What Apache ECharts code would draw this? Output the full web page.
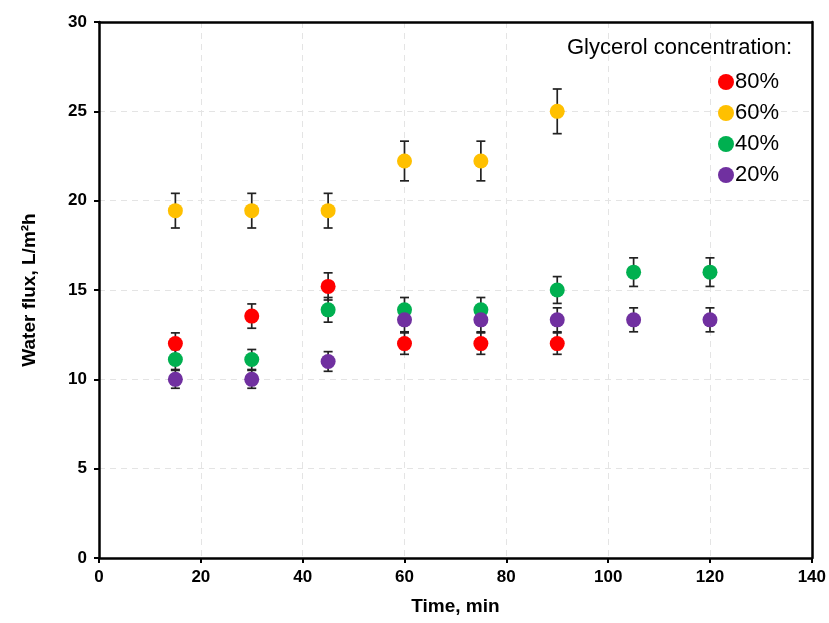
<!DOCTYPE html>
<html><head><meta charset="utf-8">
<script src="https://cdn.jsdelivr.net/npm/echarts@6/dist/echarts.min.js"></script>
<style>html,body{margin:0;padding:0;background:#fff}#c{width:829px;height:623px}</style>
</head><body><div id="c"></div>
<script>
const timesShort = [15, 30, 45, 60, 75, 90];
const timesLong = [15, 30, 45, 60, 75, 90, 105, 120];
const names = ['80%', '60%', '40%', '20%'];
const colors = ['#FF0000', '#FFC000', '#00B050', '#7030A0'];
const flux80 = [12, 13.54, 15.2, 12, 12, 12];
const flux60 = [19.44, 19.44, 19.44, 22.22, 22.22, 25];
const flux40 = [11.11, 11.11, 13.89, 13.89, 13.89, 15, 16, 16];
const flux20 = [10, 10, 11, 13.33, 13.33, 13.33, 13.33, 13.33];
const err80 = [0.6, 0.68, 0.76, 0.6, 0.6, 0.6];
const err60 = [0.97, 0.97, 0.97, 1.11, 1.11, 1.25];
const err40 = [0.56, 0.56, 0.69, 0.69, 0.69, 0.75, 0.8, 0.8];
const err20 = [0.5, 0.5, 0.55, 0.67, 0.67, 0.67, 0.67, 0.67];
const xTicks = [0, 20, 40, 60, 80, 100, 120, 140];
const yTicks = [0, 5, 10, 15, 20, 25, 30];

const groups = [
  {t: timesShort, v: flux80, e: err80},
  {t: timesShort, v: flux60, e: err60},
  {t: timesLong, v: flux40, e: err40},
  {t: timesLong, v: flux20, e: err20}
];

const series = [];
groups.forEach((g, i) => {
  series.push({
    type: 'custom',
    name: names[i] + ' err',
    z: 1,
    silent: true,
    data: g.t.map((t, k) => [t, g.v[k] - g.e[k], g.v[k] + g.e[k]]),
    renderItem: function (params, api) {
      const lo = api.coord([api.value(0), api.value(1)]);
      const hi = api.coord([api.value(0), api.value(2)]);
      const w = 4.5;
      const st = {stroke: '#222', lineWidth: 1.7};
      return {type: 'group', children: [
        {type: 'line', shape: {x1: lo[0], y1: lo[1], x2: hi[0], y2: hi[1]}, style: st},
        {type: 'line', shape: {x1: lo[0] - w, y1: lo[1], x2: lo[0] + w, y2: lo[1]}, style: st},
        {type: 'line', shape: {x1: hi[0] - w, y1: hi[1], x2: hi[0] + w, y2: hi[1]}, style: st}
      ]};
    }
  });
});
groups.forEach((g, i) => {
  series.push({
    type: 'scatter',
    name: names[i],
    z: 3,
    symbol: 'circle',
    symbolSize: 15,
    itemStyle: {color: colors[i], opacity: 1},
    data: g.t.map((t, k) => [t, g.v[k]])
  });
});

const chart = echarts.init(document.getElementById('c'), null, {renderer: 'canvas'});
const FF = 'Liberation Sans, Arial';
const axisLabelStyle = {color: '#000', fontFamily: FF, fontWeight: 'bold', fontSize: 17};
const frameAxis = {
  show: true,
  axisLine: {show: true, onZero: false, lineStyle: {color: '#000', width: 2.5}},
  axisTick: {show: false}, axisLabel: {show: false}, splitLine: {show: false}
};
chart.setOption({
  animation: false,
  backgroundColor: '#fff',
  title: {
    text: 'Glycerol concentration:',
    left: 562, top: 32,
    textStyle: {fontFamily: FF, fontWeight: 'normal', fontSize: 22, color: '#000'}
  },
  legend: {
    data: names,
    orient: 'vertical',
    left: 713, top: 66,
    icon: 'circle',
    itemWidth: 16, itemHeight: 16,
    itemGap: 9,
    textStyle: {fontFamily: FF, fontSize: 22, lineHeight: 22, color: '#000', padding: [0, 0, 0, -4]}
  },
  grid: {left: 99, right: 16, top: 22, bottom: 65},
  xAxis: [{
    type: 'value', min: 0, max: 140, interval: 20,
    name: 'Time, min', nameLocation: 'middle', nameGap: 39,
    nameTextStyle: {color: '#000', fontFamily: FF, fontWeight: 'bold', fontSize: 19},
    axisLine: {show: true, onZero: false, lineStyle: {color: '#000', width: 2.5}},
    axisTick: {show: true, inside: false, length: 5, lineStyle: {color: '#000', width: 2}},
    axisLabel: Object.assign({margin: 11, formatter: v => xTicks.includes(v) ? String(v) : ''}, axisLabelStyle),
    splitLine: {show: true, lineStyle: {color: '#e4e4e4', type: [6, 5], width: 1}}
  }, Object.assign({type: 'value', position: 'top', min: 0, max: 140}, frameAxis)],
  yAxis: [{
    type: 'value', min: 0, max: 30, interval: 5,
    name: 'Water flux, L/m\u00B2h', nameLocation: 'middle', nameGap: 60,
    nameTextStyle: {color: '#000', fontFamily: FF, fontWeight: 'bold', fontSize: 19},
    axisLine: {show: true, onZero: false, lineStyle: {color: '#000', width: 2.5}},
    axisTick: {show: true, inside: false, length: 5, lineStyle: {color: '#000', width: 2}},
    axisLabel: Object.assign({margin: 12, formatter: v => yTicks.includes(v) ? String(v) : ''}, axisLabelStyle),
    splitLine: {show: true, lineStyle: {color: '#e4e4e4', type: [6, 5], width: 1}}
  }, Object.assign({type: 'value', position: 'right', min: 0, max: 30}, frameAxis)],
  series: series
});
</script></body></html>
